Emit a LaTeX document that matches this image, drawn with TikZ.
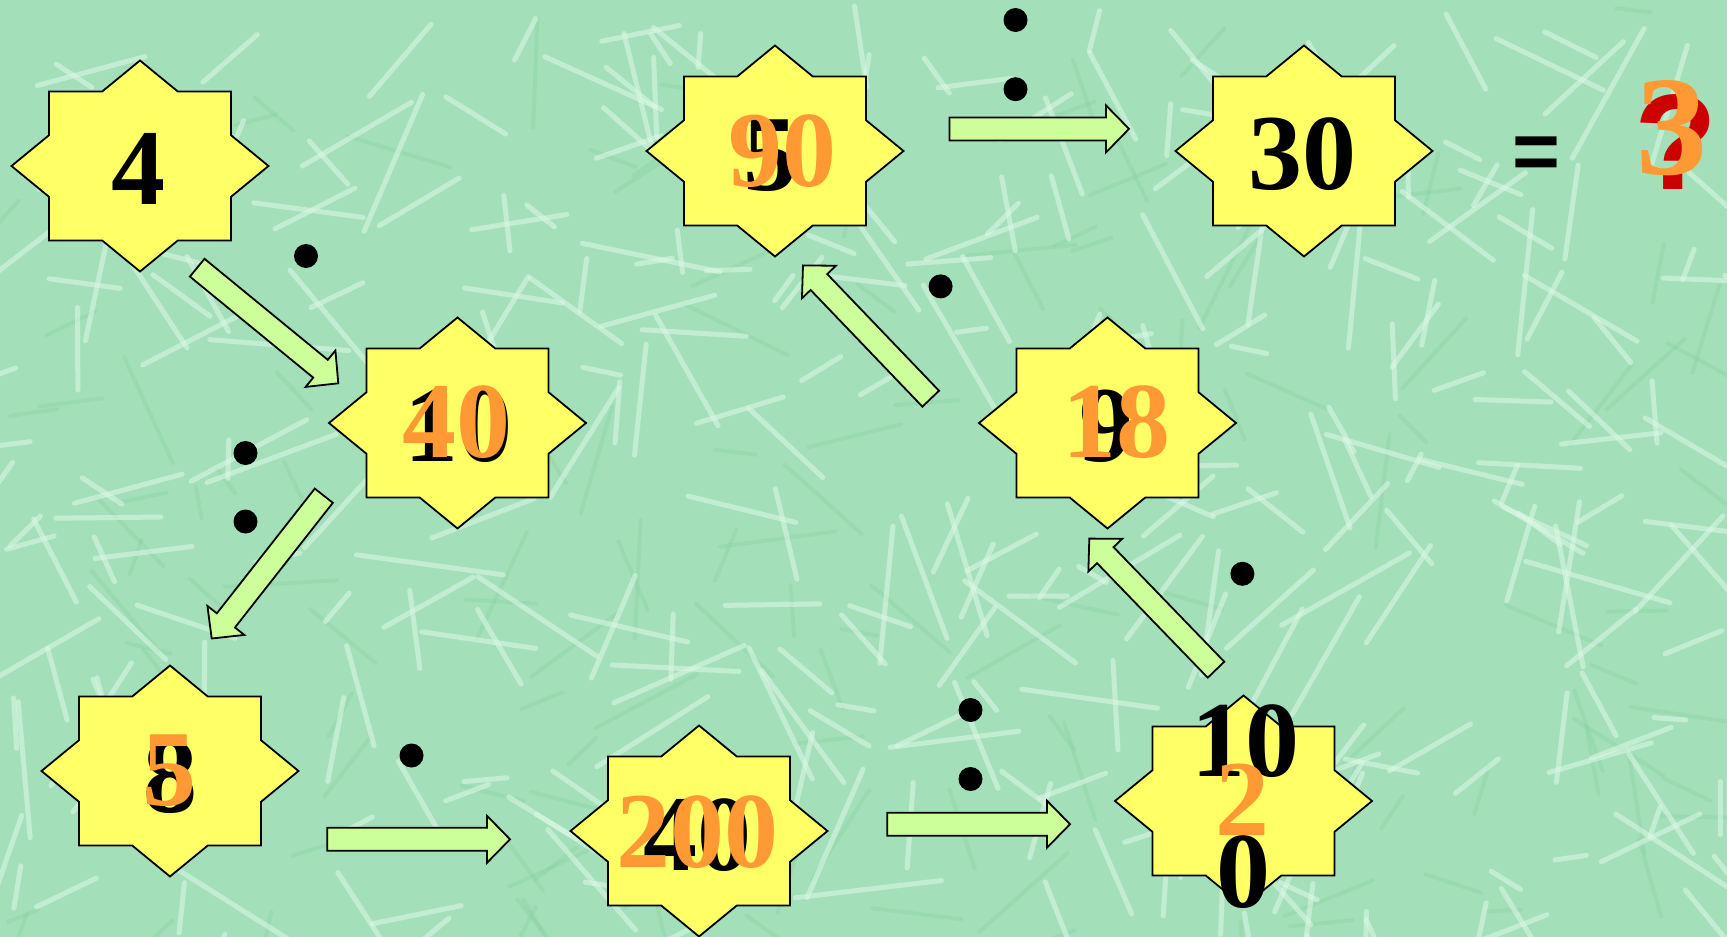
\documentclass[tikz,border=0pt]{standalone}
\usepackage{fontspec}
\setmainfont{Liberation Serif}
\newfontfamily\eqfont{Liberation Sans}
\usetikzlibrary{calc}
\definecolor{bggreen}{HTML}{A3E0BA}
\definecolor{streakc}{HTML}{DDF8E6}
\definecolor{streakd}{HTML}{8FD3A8}
\definecolor{staryellow}{HTML}{FFFF66}
\definecolor{arrowgreen}{HTML}{CCFF99}
\definecolor{numorange}{HTML}{FF9933}
\definecolor{qred}{HTML}{CC0000}
\tikzset{
  starbox/.style={draw=black, line width=1.8pt, fill=staryellow, line join=miter},
  arrowbox/.style={draw=black, line width=1.8pt, fill=arrowgreen, line join=miter},
  dotmark/.style={fill=black},
  numblack/.style={inner sep=0pt, text=black, font=\fontsize{108}{108}\selectfont\bfseries},
  numorangeb/.style={inner sep=0pt, text=numorange, font=\fontsize{108}{108}\selectfont\bfseries},
  streak/.style={draw=streakc, line width=5pt, opacity=0.55, line cap=round},
  streakdark/.style={draw=streakd, line width=4pt, opacity=0.45, line cap=round},
}
\newcommand\starshape[3]{%
  \draw[starbox, shift={(#1,#2)}, xscale=#3]
    (0,-105.5) -- (37.8,-74.5) -- (91,-74.5) -- (91,-30.8) -- (128.5,0) --
    (91,30.8) -- (91,74.5) -- (37.8,74.5) -- (0,105.5) -- (-37.8,74.5) --
    (-91,74.5) -- (-91,30.8) -- (-128.5,0) -- (-91,-30.8) -- (-91,-74.5) --
    (-37.8,-74.5) -- cycle;
}
\newcommand\blockarrow[2]{%
  \coordinate (#1-h) at ($(#2)!23pt!(#1)$);
  \draw[arrowbox] ($(#1)!11.5pt!90:(#2)$) -- ($(#1-h)!11.5pt!90:(#2)$) --
    ($(#1-h)!23.5pt!90:(#2)$) -- (#2) -- ($(#1-h)!23.5pt!-90:(#2)$) --
    ($(#1-h)!11.5pt!-90:(#2)$) -- ($(#1)!11.5pt!-90:(#2)$) -- cycle;
}
\begin{document}
\begin{tikzpicture}[x=1pt, y=-1pt]
\useasboundingbox (0,0) rectangle (1727,937);
\fill[bggreen] (0,0) rectangle (1727,937);
\begin{scope}
\clip (0,0) rectangle (1727,937);
\pgfmathsetseed{12}
\foreach \i in {1,...,140}{
  \pgfmathsetmacro\px{rnd*1727}
  \pgfmathsetmacro\py{rnd*937}
  \pgfmathsetmacro\pa{rnd*180}
  \pgfmathsetmacro\pl{30+rnd*90}
  \draw[streakdark] (\px,\py) -- ++(\pa:\pl);
}
\foreach \i in {1,...,320}{
  \pgfmathsetmacro\px{rnd*1727}
  \pgfmathsetmacro\py{rnd*937}
  \pgfmathsetmacro\pa{rnd*180}
  \pgfmathsetmacro\pl{30+rnd*120}
  \draw[streak] (\px,\py) -- ++(\pa:\pl);
}
\end{scope}

% stars
\starshape{140}{166}{1}
\starshape{775}{151}{1}
\starshape{1304}{151}{1}
\starshape{457.5}{423}{1}
\starshape{1107.5}{423}{1}
\starshape{170}{771}{1}
\starshape{699}{831}{1}
\starshape{1243.5}{801}{1}

% arrows
\coordinate (a1s) at (197.2,267.7);  \coordinate (a1e) at (338.3,383.3);
\coordinate (a2s) at (323.8,495.7);  \coordinate (a2e) at (211.7,638.5);
\coordinate (a3s) at (327.3,839.3);  \coordinate (a3e) at (510,839.3);
\coordinate (a4s) at (887.3,824.2);  \coordinate (a4e) at (1070,824.2);
\coordinate (a5s) at (1216,669.7);   \coordinate (a5e) at (1089.3,538.6);
\coordinate (a6s) at (930.7,398.7);  \coordinate (a6e) at (803,265.4);
\coordinate (a7s) at (949.4,128.9);  \coordinate (a7e) at (1129,128.9);
\blockarrow{a1s}{a1e}
\blockarrow{a2s}{a2e}
\blockarrow{a3s}{a3e}
\blockarrow{a4s}{a4e}
\blockarrow{a5s}{a5e}
\blockarrow{a6s}{a6e}
\blockarrow{a7s}{a7e}

% dots
\fill[dotmark] (306,256) circle (12);
\fill[dotmark] (245.5,453) circle (12);
\fill[dotmark] (245.5,521.5) circle (12);
\fill[dotmark] (411.5,755.5) circle (12);
\fill[dotmark] (970.5,710) circle (12);
\fill[dotmark] (970.5,779) circle (12);
\fill[dotmark] (1242.4,573.8) circle (12);
\fill[dotmark] (940.6,286.4) circle (12);
\fill[dotmark] (1015.5,20) circle (12);
\fill[dotmark] (1015.5,89.2) circle (12);

% black numbers
\node[numblack] (t4) at (138.7,168.5) {4};
\node[numblack] (t90b) at (770,155.5) {5};
\node[numblack] (t30) at (1302.9,154.5) {30};
\node[numblack] (t40b) at (458.8,425.9) {10};
\node[numblack] (t98b) at (1106,426.7) {9};
\node[numblack] (t5b) at (170.3,776.7) {8};
\node[numblack] (t200b) at (697.5,835) {40};
\node[numblack] (t10a) at (1245.2,741.3) {10};
\node[numblack] (t10b) at (1243.7,871.8) {0};
\node[inner sep=0pt, anchor=base, font=\fontsize{82}{82}\selectfont\eqfont\bfseries] (eq) at (1536,179) {=};
\node[inner sep=0pt, text=qred, font=\fontsize{136}{136}\selectfont\eqfont\bfseries] (qm) at (1676.3,142.2) {?};

% orange numbers
\node[numorangeb] (t90o) at (782.2,150.8) {90};
\node[numorangeb] (t40o) at (456.3,421.7) {40};
\node[numorangeb] (t98o) at (1116,422) {18};
\node[numorangeb] (t5o) at (169.7,770.8) {5};
\node[numorangeb] (t200o) at (697.5,831.7) {200};
\node[numorangeb] (t10o) at (1242.5,800) {2};
\node[inner sep=0pt, text=numorange, font=\fontsize{142}{142}\selectfont\bfseries] (ans) at (1671.8,128.3) {3};
\end{tikzpicture}
\end{document}
